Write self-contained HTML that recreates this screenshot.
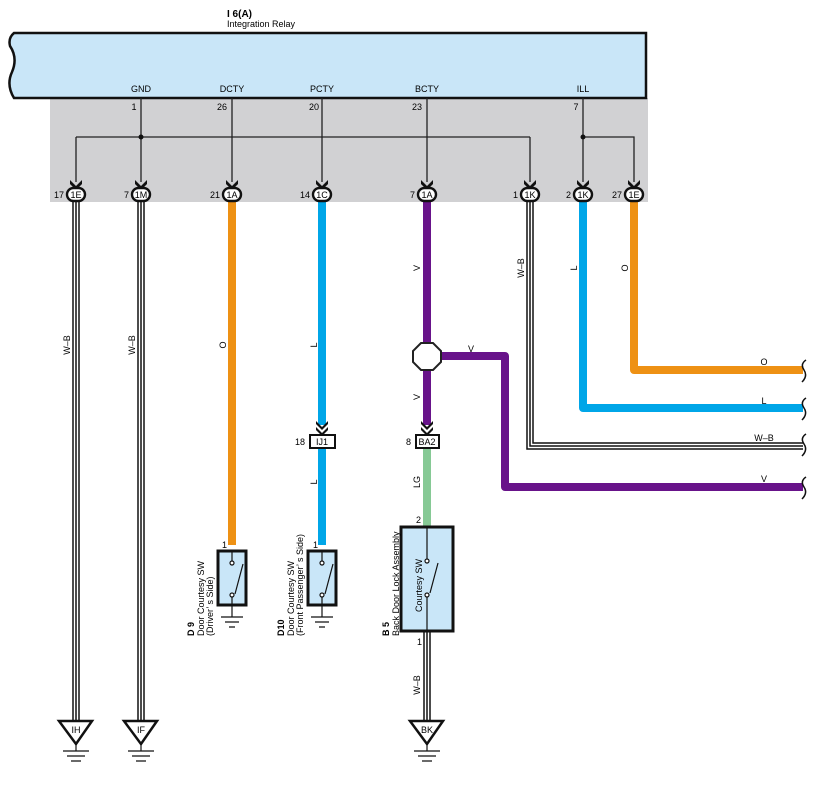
<!DOCTYPE html>
<html><head><meta charset="utf-8"><style>
html,body{margin:0;padding:0;background:#fff;}
svg{display:block;font-family:"Liberation Sans",sans-serif;}
</style></head><body>
<svg width="819" height="790" viewBox="0 0 819 790" xmlns="http://www.w3.org/2000/svg">
<!-- gray area -->
<rect x="50" y="98" width="598" height="104" fill="#d1d1d3"/>
<!-- relay box -->
<path d="M14,33 L646,33 L646,98 L14,98 Q6,85 12,72 Q18,58 10,46 Q8,38 14,33Z" fill="#c9e6f8" stroke="#111" stroke-width="2.5"/>
<text x="227" y="17" font-size="10" font-weight="bold">I 6(A)</text>
<text x="227" y="27" font-size="9">Integration Relay</text>
<g font-size="9" text-anchor="middle">
<text x="141" y="92">GND</text><text x="232" y="92">DCTY</text><text x="322" y="92">PCTY</text><text x="427" y="92">BCTY</text><text x="583" y="92">ILL</text>
<text x="134" y="110">1</text><text x="222" y="110">26</text><text x="314" y="110">20</text><text x="417" y="110">23</text><text x="576" y="110">7</text>
</g>
<!-- internal lines -->
<g stroke="#222" stroke-width="1.3" fill="none">
<path d="M141,98 V182"/>
<path d="M76,137 H530"/>
<path d="M76,137 V182"/><path d="M530,137 V182"/>
<path d="M232,98 V182"/><path d="M322,98 V182"/><path d="M427,98 V182"/>
<path d="M583,98 V182"/><path d="M583,137 H634 V182"/>
</g>
<circle cx="141" cy="137" r="2.5" fill="#111"/><circle cx="583" cy="137" r="2.5" fill="#111"/>
<g fill="#111">
<path d="M70,180 L76,186 L82,180 L82,184 L76,190 L70,184Z"/><path d="M135,180 L141,186 L147,180 L147,184 L141,190 L135,184Z"/>
<path d="M226,180 L232,186 L238,180 L238,184 L232,190 L226,184Z"/><path d="M316,180 L322,186 L328,180 L328,184 L322,190 L316,184Z"/>
<path d="M421,180 L427,186 L433,180 L433,184 L427,190 L421,184Z"/><path d="M524,180 L530,186 L536,180 L536,184 L530,190 L524,184Z"/>
<path d="M577,180 L583,186 L589,180 L589,184 L583,190 L577,184Z"/><path d="M628,180 L634,186 L640,180 L640,184 L634,190 L628,184Z"/>
</g>
<!-- colored wires -->
<g fill="none" stroke-linejoin="round">
<path d="M232,200 V545" stroke="#ee9114" stroke-width="8"/>
<path d="M322,200 V425 M322,448 V545" stroke="#00a6e8" stroke-width="8"/>
<path d="M427,200 V343 M427,370 V425" stroke="#68138a" stroke-width="8"/>
<path d="M440,356 H505 V487 H803" stroke="#68138a" stroke-width="8"/>
<path d="M427,448 V526" stroke="#86c995" stroke-width="8"/>
<path d="M634,200 V370 H803" stroke="#ee9114" stroke-width="8"/>
<path d="M583,200 V408 H803" stroke="#00a6e8" stroke-width="8"/>
</g>
<!-- W-B triple wires -->
<g fill="none" stroke="#111" stroke-width="1.5">
<path d="M73,200 V722 M76,200 V722 M79,200 V722"/>
<path d="M138,200 V722 M141,200 V722 M144,200 V722"/>
<path d="M424,631 V722 M427,631 V722 M430,631 V722"/>
<path d="M527,200 V449 H803 M530,200 V446 H803 M533,200 V443 H803"/>
</g>
<!-- connector ovals -->
<g stroke="#111" stroke-width="2.4" fill="#fff" font-size="9">
<rect x="67" y="188" width="18" height="13" rx="6.5"/><rect x="132" y="188" width="18" height="13" rx="6.5"/>
<rect x="223" y="188" width="18" height="13" rx="6.5"/><rect x="313" y="188" width="18" height="13" rx="6.5"/>
<rect x="418" y="188" width="18" height="13" rx="6.5"/><rect x="521" y="188" width="18" height="13" rx="6.5"/>
<rect x="574" y="188" width="18" height="13" rx="6.5"/><rect x="625" y="188" width="18" height="13" rx="6.5"/>
</g>
<g font-size="9" text-anchor="middle">
<text x="76" y="198">1E</text><text x="141" y="198">1M</text><text x="232" y="198">1A</text><text x="322" y="198">1C</text>
<text x="427" y="198">1A</text><text x="530" y="198">1K</text><text x="583" y="198">1K</text><text x="634" y="198">1E</text>
</g>
<g font-size="9" text-anchor="end">
<text x="64" y="198">17</text><text x="129" y="198">7</text><text x="220" y="198">21</text><text x="310" y="198">14</text>
<text x="415" y="198">7</text><text x="518" y="198">1</text><text x="571" y="198">2</text><text x="622" y="198">27</text>
</g>
<!-- octagon splice -->
<path d="M421,343 L433,343 L441,351 L441,362 L433,370 L421,370 L413,362 L413,351Z" fill="#fff" stroke="#222" stroke-width="2"/>
<!-- arrows into inline connectors -->
<g fill="#111">
<path d="M316,421 L322,427 L328,421 L328,424 L322,430 L316,424Z"/><path d="M316,427 L322,433 L328,427 L328,430 L322,436 L316,430Z"/>
<path d="M421,421 L427,427 L433,421 L433,424 L427,430 L421,424Z"/><path d="M421,427 L427,433 L433,427 L433,430 L427,436 L421,430Z"/>
</g>
<rect x="310" y="435" width="25" height="13" fill="#fff" stroke="#111" stroke-width="2"/>
<rect x="416" y="435" width="23" height="13" fill="#fff" stroke="#111" stroke-width="2"/>
<g font-size="9"><text x="322" y="445" text-anchor="middle">IJ1</text><text x="427" y="445" text-anchor="middle">BA2</text>
<text x="305" y="445" text-anchor="end">18</text><text x="411" y="445" text-anchor="end">8</text></g>
<!-- wire labels horizontal -->
<g font-size="9" text-anchor="middle">
<text x="471" y="352">V</text><text x="764" y="365">O</text><text x="764" y="404">L</text><text x="764" y="441">W–B</text><text x="764" y="482">V</text>
</g>
<!-- vertical wire labels -->
<g font-size="9" text-anchor="middle">
<text transform="translate(70,345) rotate(-90)">W–B</text>
<text transform="translate(135,345) rotate(-90)">W–B</text>
<text transform="translate(226,345) rotate(-90)">O</text>
<text transform="translate(317,345) rotate(-90)">L</text>
<text transform="translate(420,268) rotate(-90)">V</text>
<text transform="translate(420,397) rotate(-90)">V</text>
<text transform="translate(524,268) rotate(-90)">W–B</text>
<text transform="translate(577,268) rotate(-90)">L</text>
<text transform="translate(628,268) rotate(-90)">O</text>
<text transform="translate(317,482) rotate(-90)">L</text>
<text transform="translate(420,482) rotate(-90)">LG</text>
<text transform="translate(420,685) rotate(-90)">W–B</text>
</g>
<!-- squiggles -->
<g fill="none" stroke="#111" stroke-width="1.5">
<path d="M806,360 Q800,364 804,370 Q808,376 802,382"/>
<path d="M806,398 Q800,402 804,408 Q808,414 802,420"/>
<path d="M806,434 Q800,438 804,444 Q808,450 802,456"/>
<path d="M806,477 Q800,481 804,487 Q808,493 802,499"/>
</g>
<!-- switches -->
<g stroke="#111" fill="#c9e6f8">
<rect x="218" y="551" width="28" height="54" stroke-width="3"/>
<rect x="308" y="551" width="28" height="54" stroke-width="3"/>
<rect x="401" y="527" width="52" height="104" stroke-width="3"/>
</g>
<g stroke="#111" stroke-width="1.2" fill="#fff">
<path d="M232,551 V561 M232,595 V617 M221,617 H243 M225,622 H239 M229,627 H235" fill="none"/>
<path d="M322,551 V561 M322,595 V617 M311,617 H333 M315,622 H329 M319,627 H325" fill="none"/>
<path d="M235,594 L243,564 M325,594 L333,564 M430,593 L438,563" fill="none"/>
<path d="M427,527 V559 M427,597 V631" fill="none"/>
<circle cx="232" cy="563" r="2"/><circle cx="232" cy="595" r="2"/>
<circle cx="322" cy="563" r="2"/><circle cx="322" cy="595" r="2"/>
<circle cx="427" cy="561" r="2"/><circle cx="427" cy="595" r="2"/>
</g>
<g font-size="9">
<text x="222" y="548">1</text><text x="313" y="548">1</text><text x="416" y="523">2</text><text x="417" y="645">1</text>
</g>
<g font-size="9">
<text transform="translate(194,636) rotate(-90)" font-weight="bold">D 9</text>
<text transform="translate(204,636) rotate(-90)">Door Courtesy SW</text>
<text transform="translate(213,636) rotate(-90)">(Driver’ s Side)</text>
<text transform="translate(284,636) rotate(-90)" font-weight="bold">D10</text>
<text transform="translate(294,636) rotate(-90)">Door Courtesy SW</text>
<text transform="translate(303,636) rotate(-90)">(Front Passenger’ s Side)</text>
<text transform="translate(389,636) rotate(-90)" font-weight="bold">B 5</text>
<text transform="translate(399,636) rotate(-90)">Back Door Lock Assembly</text>
<text transform="translate(422,612) rotate(-90)">Courtesy SW</text>
</g>
<!-- ground triangles -->
<g stroke="#111" fill="#fff">
<path d="M59,721 H92 L76,744Z" stroke-width="2.5"/>
<path d="M124,721 H157 L141,744Z" stroke-width="2.5"/>
<path d="M410,721 H443 L427,744Z" stroke-width="2.5"/>
<path d="M76,744 V751 M63,751 H89 M67,756 H85 M71,761 H81" stroke-width="1.2"/>
<path d="M141,744 V751 M128,751 H154 M132,756 H150 M136,761 H146" stroke-width="1.2"/>
<path d="M427,744 V751 M414,751 H440 M418,756 H436 M422,761 H432" stroke-width="1.2"/>
</g>
<g font-size="9" text-anchor="middle"><text x="76" y="733">IH</text><text x="141" y="733">IF</text><text x="427" y="733">BK</text></g>
</svg>
</body></html>
